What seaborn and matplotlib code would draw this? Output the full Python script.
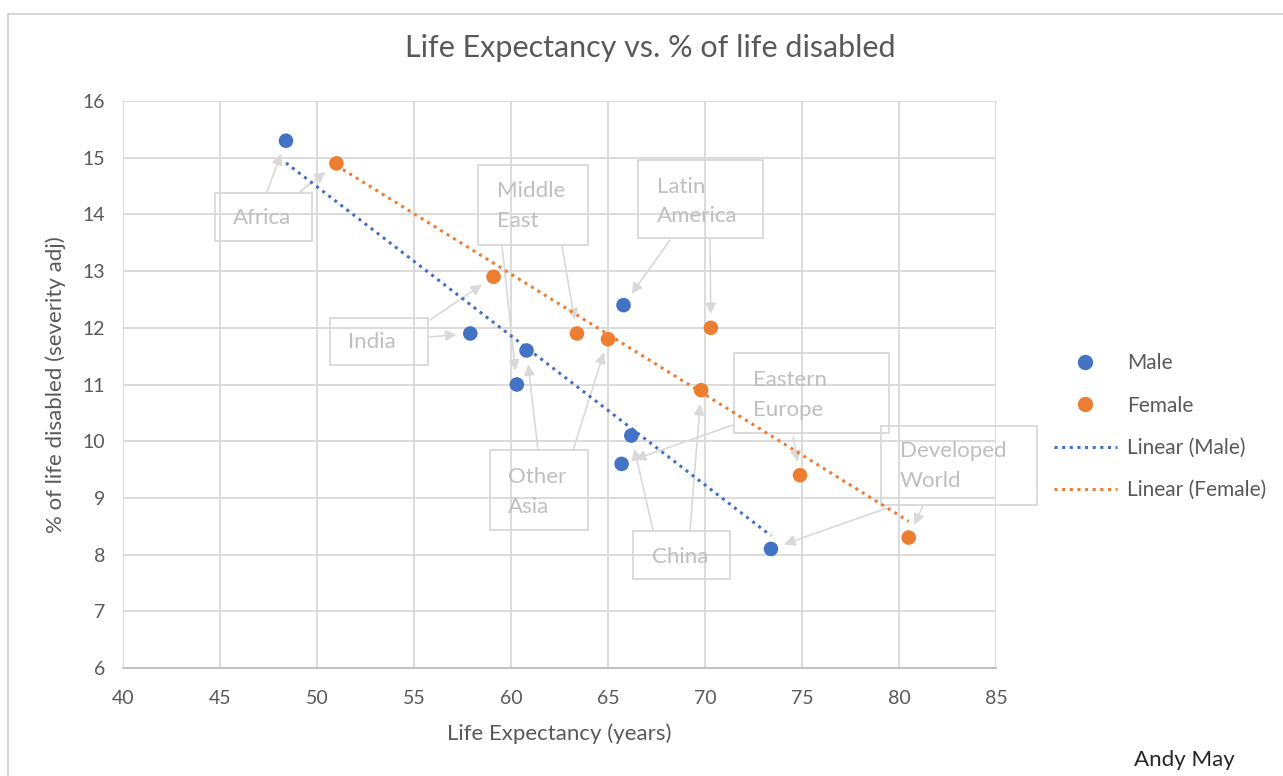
import numpy as np
import pandas as pd
import matplotlib
matplotlib.use("Agg")
import matplotlib.pyplot as plt
from matplotlib.lines import Line2D
from matplotlib.patches import Rectangle
import seaborn as sns

# --- data ---
male_life = [48.4, 57.9, 60.8, 60.3, 65.8, 66.2, 65.7, 73.4]
male_disabled = [15.3, 11.9, 11.6, 11.0, 12.4, 10.1, 9.6, 8.1]
female_life = [51.0, 59.1, 63.4, 65.0, 70.3, 69.8, 74.9, 80.5]
female_disabled = [14.9, 12.9, 11.9, 11.8, 12.0, 10.9, 9.4, 8.3]

regions = ["Africa", "Middle\nEast", "Latin\nAmerica", "India",
           "Other\nAsia", "Eastern\nEurope", "China", "Developed\nWorld"]
# which point (index in the series) each region's arrows point at
male_target = [0, 3, 4, 1, 2, 6, 5, 7]
female_target = [0, 2, 4, 1, 3, 6, 5, 7]

x_ticks = [40, 45, 50, 55, 60, 65, 70, 75, 80, 85]
y_ticks = [6, 7, 8, 9, 10, 11, 12, 13, 14, 15, 16]

# --- layout of the callout boxes (data coords): box, text pos, arrow starts ---
box_layout = {
    "Africa": dict(box=(44.74, 13.53, 5.0, 0.85), txt=(45.67, 13.94),
                   m_start=(47.42, 14.40), f_start=(49.12, 14.40)),
    "Middle\nEast": dict(box=(58.30, 13.46, 5.67, 1.41), txt=(59.28, 14.15),
                         m_start=(59.54, 13.43), f_start=(62.63, 13.43)),
    "Latin\nAmerica": dict(box=(66.55, 13.58, 6.44, 1.38), txt=(67.53, 14.23),
                           m_start=(68.20, 13.55), f_start=(70.26, 13.58)),
    "India": dict(box=(50.67, 11.34, 5.05, 0.83), txt=(51.6, 11.75),
                  m_start=(55.82, 11.84), f_start=(55.82, 12.14)),
    "Other\nAsia": dict(box=(58.92, 8.43, 5.05, 1.41), txt=(59.85, 9.10),
                        m_start=(61.39, 9.84), f_start=(63.20, 9.84)),
    "Eastern\nEurope": dict(box=(71.50, 10.14, 7.98, 1.42), txt=(72.47, 10.81),
                            m_start=(71.49, 10.29), f_start=(74.54, 10.07)),
    "China": dict(box=(66.29, 7.57, 5.0, 0.85), txt=(67.27, 7.96),
                  m_start=(67.32, 8.43), f_start=(69.23, 8.43)),
    "Developed\nWorld": dict(box=(79.07, 8.87, 8.04, 1.40), txt=(80.05, 9.56),
                             m_start=(79.38, 8.82), f_start=(81.24, 8.87)),
}

male_color = "#4472C4"
female_color = "#ED7D31"
grid_color = "#D9D9D9"
text_color = "#595959"
note_color = "#BFBFBF"

df = pd.DataFrame({
    "life": male_life + female_life,
    "disabled": male_disabled + female_disabled,
    "sex": ["Male"] * len(male_life) + ["Female"] * len(female_life),
})

sns.set_theme(style="white")
plt.rcParams["font.family"] = ["Lato", "DejaVu Sans"]

fig = plt.figure(figsize=(12.83, 7.76), dpi=100)
ax = fig.add_axes([0.0959, 0.1392, 0.6804, 0.7306])

# outer chart frame
fig.patches.append(Rectangle((0.006, -0.02), 1.0, 1.002, transform=fig.transFigure,
                             fill=False, edgecolor="#D0D0D0", lw=1.2))

# trendlines
sns.regplot(x=male_life, y=male_disabled, scatter=False, ci=None, ax=ax,
            line_kws=dict(color=male_color, ls=(0, (1, 1.5)), lw=2.2, zorder=3))
sns.regplot(x=female_life, y=female_disabled, scatter=False, ci=None, ax=ax,
            line_kws=dict(color=female_color, ls=(0, (1, 1.5)), lw=2.2, zorder=3))

sns.scatterplot(data=df, x="life", y="disabled", hue="sex",
                palette={"Male": male_color, "Female": female_color},
                s=110, edgecolor="none", legend=False, ax=ax, zorder=4)

# callouts
for i, name in enumerate(regions):
    lay = box_layout[name]
    bx, by, bw, bh = lay["box"]
    ax.add_patch(Rectangle((bx, by), bw, bh, fill=False, edgecolor=grid_color,
                           lw=1.3, clip_on=False, zorder=2))
    ax.text(lay["txt"][0], lay["txt"][1], name, color=note_color, fontsize=16,
            ha="left", va="center", linespacing=1.6, zorder=2)
    mi, fi = male_target[i], female_target[i]
    for start, pt in [(lay["m_start"], (male_life[mi], male_disabled[mi])),
                      (lay["f_start"], (female_life[fi], female_disabled[fi]))]:
        ax.annotate("", xy=pt, xytext=start,
                    arrowprops=dict(arrowstyle="-|>", color=grid_color, lw=1.2,
                                    mutation_scale=16, shrinkA=0, shrinkB=10),
                    zorder=2)

ax.set_xlim(40, 85)
ax.set_ylim(6, 16)
ax.set_xticks(x_ticks)
ax.set_yticks(y_ticks)
ax.grid(True, color=grid_color, lw=1.3)
ax.set_axisbelow(True)
for side in ["top", "right", "left"]:
    ax.spines[side].set_visible(False)
ax.spines["bottom"].set_color("#BFBFBF")
ax.spines["bottom"].set_linewidth(1.3)
ax.tick_params(axis="both", length=0, labelsize=14, labelcolor=text_color)
ax.tick_params(axis="x", pad=16)
ax.tick_params(axis="y", pad=13)

ax.set_xlabel("Life Expectancy (years)", fontsize=16, color=text_color, labelpad=12)
ax.set_ylabel("% of life disabled (severity adj)", fontsize=16, color=text_color, labelpad=12)
fig.text(0.507, 0.938, "Life Expectancy vs. % of life disabled", ha="center",
         va="center", fontsize=22, color=text_color)
fig.text(0.923, 0.02, "Andy May", ha="center", va="center", fontsize=16, color="#262626")

handles = [
    Line2D([], [], ls="none", marker="o", markersize=10, color=male_color),
    Line2D([], [], ls="none", marker="o", markersize=10, color=female_color),
    Line2D([], [], color=male_color, ls=(0, (1, 1.5)), lw=2.2),
    Line2D([], [], color=female_color, ls=(0, (1, 1.5)), lw=2.2),
]
labels = ["Male", "Female", "Linear (Male)", "Linear (Female)"]
fig.legend(handles, labels, loc="center left", bbox_to_anchor=(0.807, 0.45),
           frameon=False, fontsize=15, labelcolor=text_color, labelspacing=1.07,
           handlelength=3.0, handletextpad=0.5)

fig.savefig("out.png", dpi=100)
